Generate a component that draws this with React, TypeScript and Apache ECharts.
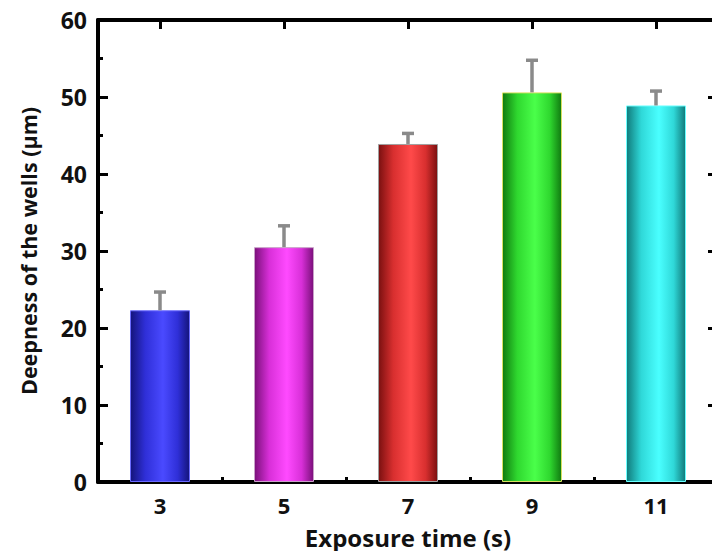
import React, { useEffect, useRef } from "react";
import * as echarts from "echarts";

const categories = ["3", "5", "7", "9", "11"];
const depths = [22.3, 30.5, 43.9, 50.6, 48.9];
const errors = [2.5, 2.9, 1.5, 4.3, 2.0];
const yTicks = [0, 10, 20, 30, 40, 50, 60];

const palette = [
  { dark: "#14147a", mid: "#2f2fd8", light: "#4a4aff", border: "#6a6aff" },
  { dark: "#7a107a", mid: "#d82fd8", light: "#ff4aff", border: "#c8a0c8" },
  { dark: "#7a1010", mid: "#d82f2f", light: "#ff4a4a", border: "#a0a0a0" },
  { dark: "#107a10", mid: "#2fd82f", light: "#4aff4a", border: "#d8e060" },
  { dark: "#107a7a", mid: "#2fd8d8", light: "#4affff", border: "#6affff" },
];

const FONT = "'Open Sans', 'Liberation Sans', sans-serif";

const line = (w: number) => ({ show: true, onZero: false, lineStyle: { color: "#000", width: w } });
const tick = (len: number, w: number, align?: boolean) => ({
  show: true,
  inside: true,
  alignWithLabel: align,
  length: len,
  lineStyle: { color: "#000", width: w },
});
const text = (size: number, lh: number) => ({
  color: "#111",
  fontSize: size,
  lineHeight: lh,
  fontWeight: "bold" as const,
  fontFamily: FONT,
});

export default function App() {
  const ref = useRef<HTMLDivElement>(null);
  useEffect(() => {
    if (!ref.current) return;
    const chart = echarts.init(ref.current, undefined, { renderer: "svg" });
    const gradient = (i: number) =>
      new echarts.graphic.LinearGradient(0, 0, 1, 0, [
        { offset: 0, color: palette[i].dark },
        { offset: 0.25, color: palette[i].mid },
        { offset: 0.55, color: palette[i].light },
        { offset: 0.8, color: palette[i].mid },
        { offset: 1, color: palette[i].dark },
      ]);
    chart.setOption({
      animation: false,
      backgroundColor: "#fff",
      grid: { left: 98, top: 20, right: -6, bottom: 69, containLabel: false, outerBoundsMode: "none" },
      xAxis: [
        {
          type: "category",
          data: categories,
          position: "bottom",
          axisLine: line(4),
          axisTick: tick(9, 3, true),
          axisLabel: { ...text(22, 20), margin: 13 },
          name: "Exposure time (s)",
          nameLocation: "middle",
          nameGap: 44,
          nameTextStyle: text(24, 22),
        },
        {
          type: "category",
          data: categories,
          position: "bottom",
          axisLine: { show: false },
          axisTick: tick(5, 3, false),
          axisLabel: { show: false },
        },
        {
          type: "category",
          data: categories,
          position: "top",
          axisLine: line(4),
          axisTick: tick(9, 3, true),
          axisLabel: { show: false },
        },
      ],
      yAxis: [
        {
          type: "value",
          min: 0,
          max: 60,
          interval: 10,
          position: "left",
          axisLine: line(4),
          axisTick: tick(10, 3),
          minorTick: { show: true, splitNumber: 2, length: 5, lineStyle: { color: "#000", width: 3 } },
          splitLine: { show: false },
          axisLabel: {
            ...text(23, 24),
            margin: 11,
            formatter: (v: number) => (yTicks.includes(v) ? String(v) : ""),
          },
          name: "Deepness of the wells (μm)",
          nameLocation: "middle",
          nameGap: 58,
          nameTextStyle: text(21.5, 24),
        },
        {
          type: "value",
          min: 0,
          max: 60,
          interval: 10,
          position: "right",
          axisLine: line(4),
          axisTick: tick(10, 3),
          minorTick: { show: true, splitNumber: 2, length: 5, lineStyle: { color: "#000", width: 3 } },
          splitLine: { show: false },
          axisLabel: { show: false },
        },
      ],
      series: [
        {
          type: "bar",
          xAxisIndex: 0,
          yAxisIndex: 0,
          barWidth: 60,
          data: depths.map((v, i) => ({
            value: v,
            itemStyle: { color: gradient(i), borderColor: palette[i].border, borderWidth: 1 },
          })),
        },
        {
          type: "custom",
          xAxisIndex: 0,
          yAxisIndex: 0,
          data: depths.map((v, i) => [i, v, v + errors[i]]),
          encode: { x: 0, y: [1, 2] },
          z: 5,
          renderItem: (params: any, api: any) => {
            const idx = api.value(0);
            const base = api.coord([idx, api.value(1)]);
            const top = api.coord([idx, api.value(2)]);
            const style = { stroke: "#8a8a8a", lineWidth: 3.5 };
            return {
              type: "group",
              children: [
                { type: "line", shape: { x1: base[0], y1: base[1], x2: top[0], y2: top[1] + 1 }, style },
                { type: "line", shape: { x1: top[0] - 6, y1: top[1] + 1, x2: top[0] + 6, y2: top[1] + 1 }, style },
              ],
            };
          },
        },
      ],
    });
    return () => chart.dispose();
  }, []);
  return (
    <div
      ref={ref}
      style={{ position: "fixed", left: 0, top: 0, width: 712, height: 551, background: "#fff" }}
    />
  );
}
